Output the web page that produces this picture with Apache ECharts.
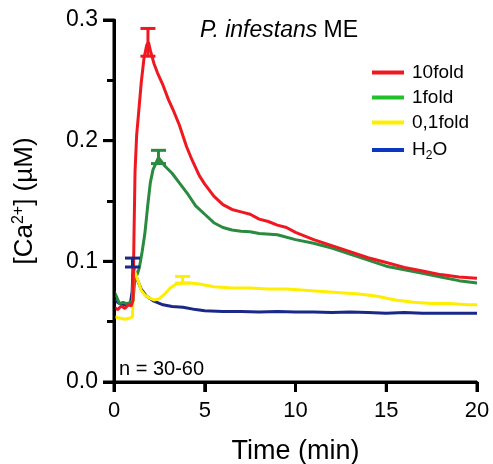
<!DOCTYPE html>
<html>
<head>
<meta charset="utf-8">
<script src="https://cdn.jsdelivr.net/npm/echarts@6/dist/echarts.min.js"></script>
<style>html,body{margin:0;padding:0;background:#fff}#c{width:493px;height:464px}</style>
</head>
<body>
<div id="c"></div>
<script>
// ---- data (time in min, [Ca2+] in µM) ----
var seriesNames = ['10fold', '1fold', '0,1fold', 'H2O'];
var xTicks = [0, 5, 10, 15, 20];
var yTicks = [0.0, 0.1, 0.2, 0.3];

var redT = [0, 0.2, 0.4, 0.6, 0.8, 0.95, 1.05, 1.1, 1.16, 1.25, 1.35, 1.5, 1.65, 1.8, 1.9, 2.0, 2.2, 2.4, 2.7, 3.0, 3.3, 3.6, 4.0, 4.3, 4.7, 5.0, 5.5, 6.0, 6.5, 7.0, 7.5, 8.0, 8.5, 9.0, 9.5, 10, 11, 12, 13, 14, 15, 16, 17, 18, 19, 20];
var redV = [0.062, 0.060, 0.063, 0.061, 0.064, 0.063, 0.068, 0.120, 0.175, 0.205, 0.222, 0.248, 0.268, 0.279, 0.2815, 0.275, 0.264, 0.256, 0.246, 0.234, 0.224, 0.213, 0.195, 0.184, 0.171, 0.164, 0.154, 0.147, 0.143, 0.141, 0.139, 0.135, 0.133, 0.130, 0.128, 0.124, 0.118, 0.113, 0.108, 0.103, 0.099, 0.095, 0.092, 0.089, 0.087, 0.086];

var greenT = [0, 0.1, 0.3, 0.5, 0.7, 0.9, 1.05, 1.15, 1.3, 1.4, 1.55, 1.7, 1.85, 2.0, 2.15, 2.3, 2.45, 2.6, 2.8, 3.2, 3.6, 4.1, 4.5, 5.0, 5.5, 6.0, 6.5, 7.0, 7.5, 8.0, 9.0, 10, 11, 12, 13, 14, 15, 16, 17, 18, 19, 20];
var greenV = [0.075, 0.072, 0.065, 0.066, 0.065, 0.066, 0.068, 0.085, 0.090, 0.095, 0.108, 0.123, 0.145, 0.165, 0.176, 0.181, 0.186, 0.183, 0.179, 0.173, 0.165, 0.155, 0.146, 0.139, 0.132, 0.128, 0.126, 0.125, 0.1245, 0.123, 0.122, 0.118, 0.115, 0.111, 0.106, 0.101, 0.096, 0.093, 0.090, 0.087, 0.084, 0.082];

var yellowT = [0, 0.3, 0.6, 0.9, 1.02, 1.08, 1.15, 1.3, 1.5, 1.7, 1.9, 2.2, 2.5, 2.8, 3.1, 3.4, 3.8, 4.2, 4.8, 5.5, 6.5, 7.5, 8.5, 9.5, 10.5, 11.5, 12.5, 13.5, 14.5, 15.5, 16.5, 17.5, 18.5, 19.5, 20];
var yellowV = [0.054, 0.053, 0.052, 0.053, 0.054, 0.094, 0.094, 0.085, 0.076, 0.072, 0.070, 0.068, 0.069, 0.073, 0.078, 0.081, 0.082, 0.082, 0.081, 0.079, 0.078, 0.078, 0.077, 0.077, 0.076, 0.075, 0.074, 0.073, 0.071, 0.068, 0.066, 0.065, 0.065, 0.064, 0.064];

var blueT = [0, 0.3, 0.6, 0.9, 1.0, 1.05, 1.15, 1.3, 1.5, 1.8, 2.2, 2.7, 3.2, 3.8, 4.5, 5, 6, 7, 8, 9, 10, 11, 12, 13, 14, 15, 16, 17, 18, 19, 20];
var blueV = [0.068, 0.065, 0.064, 0.065, 0.075, 0.097, 0.092, 0.084, 0.077, 0.071, 0.067, 0.064, 0.0625, 0.062, 0.060, 0.059, 0.0585, 0.0585, 0.058, 0.0585, 0.058, 0.058, 0.0575, 0.058, 0.0575, 0.057, 0.0575, 0.057, 0.057, 0.057, 0.057];

// error bars: [time, low, high]
var redErr = [1.87, 0.270, 0.293];
var greenErr = [2.45, 0.181, 0.192];
var yellowErr = [3.78, 0.082, 0.0875];
var blueErr = [1.02, 0.0953, 0.1027];

var lineColors = ['#f01820', '#2a8a40', '#ffee00', '#1a2888'];
var legendColors = ['#f01820', '#22c02a', '#ffee00', '#0a36c0'];

function pairs(t, v) { return t.map(function (x, i) { return [x, v[i]]; }); }

var FONT = 'Liberation Sans, Arial, sans-serif';

function errSeries(e, color) {
  return {
    type: 'custom', z: 5, silent: true,
    data: [e],
    renderItem: function (params, api) {
      var x = api.value(0), lo = api.value(1), hi = api.value(2);
      var pLo = api.coord([x, lo]), pHi = api.coord([x, hi]);
      var hw = 7.5;
      return {
        type: 'group',
        children: [
          { type: 'line', shape: { x1: pLo[0], y1: pLo[1], x2: pHi[0], y2: pHi[1] }, style: { stroke: color, lineWidth: 3 } },
          { type: 'line', shape: { x1: pHi[0] - hw, y1: pHi[1], x2: pHi[0] + hw, y2: pHi[1] }, style: { stroke: color, lineWidth: 3 } },
          { type: 'line', shape: { x1: pLo[0] - hw, y1: pLo[1], x2: pLo[0] + hw, y2: pLo[1] }, style: { stroke: color, lineWidth: 3 } }
        ]
      };
    },
    encode: { x: 0, y: [1, 2] }
  };
}

// axis frame (axis lines + major ticks) positioned through the chart's own axis scales
var axesFrame = {
  type: 'custom', z: 10, silent: true, clip: false,
  data: [[xTicks[0], yTicks[0]]],
  renderItem: function (params, api) {
    var o = api.coord([xTicks[0], yTicks[0]]);
    var xe = api.coord([xTicks[xTicks.length - 1], yTicks[0]]);
    var ye = api.coord([xTicks[0], yTicks[yTicks.length - 1]]);
    var kids = [
      { type: 'line', shape: { x1: o[0], y1: o[1] + 1.5, x2: ye[0], y2: ye[1] }, style: { stroke: '#000', lineWidth: 3 } },
      { type: 'line', shape: { x1: o[0], y1: o[1], x2: xe[0], y2: xe[1] }, style: { stroke: '#000', lineWidth: 3 } }
    ];
    yTicks.forEach(function (v) {
      var p = api.coord([xTicks[0], v]);
      kids.push({ type: 'line', shape: { x1: p[0] - 11, y1: p[1], x2: p[0], y2: p[1] }, style: { stroke: '#000', lineWidth: 3 } });
    });
    xTicks.forEach(function (v) {
      var p = api.coord([v, yTicks[0]]);
      kids.push({ type: 'line', shape: { x1: p[0], y1: p[1], x2: p[0], y2: p[1] + 10 }, style: { stroke: '#000', lineWidth: 3 } });
    });
    return { type: 'group', children: kids };
  },
  encode: { x: 0, y: 1 }
};

function lineSeries(name, t, v, color) {
  return {
    name: name, type: 'line', data: pairs(t, v), showSymbol: false,
    lineStyle: { color: color, width: 3 }, itemStyle: { color: color }
  };
}

var chart = echarts.init(document.getElementById('c'));
chart.setOption({
  animation: false,
  backgroundColor: '#fff',
  textStyle: { fontFamily: FONT },
  grid: { left: 114, right: 16, top: 20, bottom: 82, outerBoundsMode: 'none' },
  title: {
    text: '{i|P. infestans} ME',
    left: 195, top: 14,
    textStyle: {
      fontFamily: FONT, fontSize: 23, fontWeight: 'normal', color: '#000',
      rich: { i: { fontFamily: FONT, fontSize: 23, fontStyle: 'italic', color: '#000' } }
    }
  },
  legend: {
    orient: 'vertical', left: 367, top: 58, itemGap: 6,
    icon: 'rect', itemWidth: 32, itemHeight: 4,
    data: seriesNames.map(function (n, i) { return { name: n, itemStyle: { color: legendColors[i] } }; }),
    formatter: function (n) { return n === 'H2O' ? '{n|H}{s|2}{n|O}' : '{n|' + n + '}'; },
    textStyle: {
      fontFamily: FONT, fontSize: 19, color: '#000', padding: [0, 0, 0, 3],
      rich: {
        n: { fontFamily: FONT, fontSize: 19, color: '#000', lineHeight: 20 },
        s: { fontFamily: FONT, fontSize: 12, color: '#000', lineHeight: 20, padding: [12, 0, 0, 0] }
      }
    }
  },
  xAxis: {
    type: 'value', min: 0, max: 20, interval: 5,
    name: 'Time (min)', nameLocation: 'middle', nameGap: 56,
    nameTextStyle: { fontFamily: FONT, fontSize: 27, color: '#000' },
    axisLine: { show: true, lineStyle: { color: '#000', width: 3 } },
    axisTick: { show: true, length: 10, lineStyle: { color: '#000', width: 3 } },
    axisLabel: { fontFamily: FONT, fontSize: 22, color: '#000', margin: 18 },
    splitLine: { show: false }
  },
  yAxis: {
    type: 'value', min: 0, max: 0.3, interval: 0.1,
    name: '[Ca{sup|2+}] (µM)', nameLocation: 'middle', nameGap: 75, nameRotate: 90,
    nameTextStyle: { fontFamily: FONT, fontSize: 26, color: '#000',
      rich: { sup: { fontFamily: FONT, fontSize: 16, color: '#000', padding: [0, 0, 12, 0] } } },
    axisLine: { show: true, lineStyle: { color: '#000', width: 3 } },
    axisTick: { show: true, length: 11, lineStyle: { color: '#000', width: 3 } },
    minorTick: { show: true, splitNumber: 2, length: 7, lineStyle: { color: '#000', width: 3 } },
    axisLabel: { fontFamily: FONT, fontSize: 23, color: '#000', margin: 16,
      formatter: function (v) { return v.toFixed(1); } },
    splitLine: { show: false }, minorSplitLine: { show: false }
  },
  graphic: [{
    type: 'text', left: 119, top: 359, silent: true, z: 50,
    style: { text: 'n = 30-60', fontFamily: FONT, fontSize: 20, fill: '#000' }
  }],
  series: [
    lineSeries('H2O', blueT, blueV, lineColors[3]),
    lineSeries('1fold', greenT, greenV, lineColors[1]),
    lineSeries('0,1fold', yellowT, yellowV, lineColors[2]),
    lineSeries('10fold', redT, redV, lineColors[0]),
    errSeries(redErr, lineColors[0]),
    errSeries(greenErr, lineColors[1]),
    errSeries(yellowErr, lineColors[2]),
    errSeries(blueErr, lineColors[3]),
    axesFrame
  ]
});
</script>
</body>
</html>
